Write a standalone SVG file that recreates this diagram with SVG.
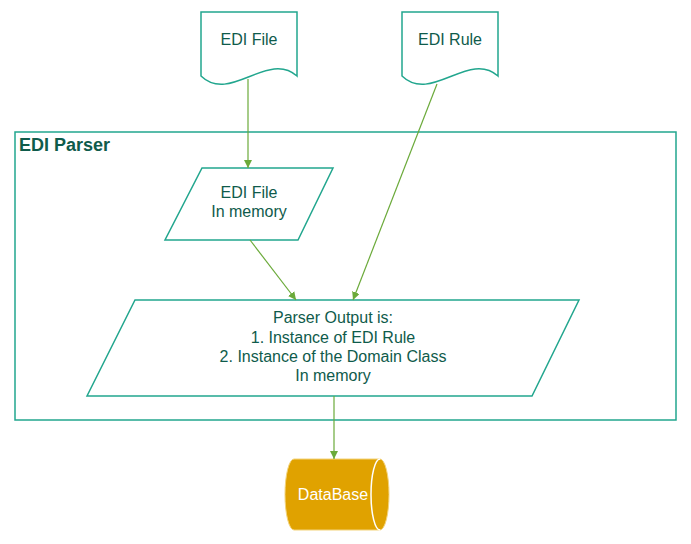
<svg xmlns="http://www.w3.org/2000/svg" width="691" height="544" viewBox="0 0 691 544">
<style>
.shape{fill:#fff;stroke:#22A68E;stroke-width:1.5}
.t{font-family:"Liberation Sans",Arial,sans-serif;font-size:16px;fill:#0F5B4B;text-anchor:middle}
.title{font-family:"Liberation Sans",Arial,sans-serif;font-size:18px;font-weight:bold;fill:#0F5B4B}
.conn{stroke:#6BAA3A;stroke-width:1.2;fill:none;marker-end:url(#arr)}
</style>
<defs>
<marker id="arr" viewBox="0 0 10 10" refX="10" refY="5" markerWidth="8" markerHeight="8" markerUnits="userSpaceOnUse" orient="auto">
<path d="M0,0 L10,5 L0,10 Z" fill="#6BAA3A"/>
</marker>
</defs>
<rect width="691" height="544" fill="#fff"/>
<g id="container">
<rect x="15" y="132" width="661" height="288" fill="none" stroke="#22A68E" stroke-width="1.5"/>
<text class="title" x="19" y="151">EDI Parser</text>
</g>
<g id="edi-file-doc">
<path class="shape" d="M201,12 H297 V76 C268,50 230,104 201,76 Z"/>
<text class="t" x="249" y="45">EDI File</text>
</g>
<g id="edi-rule-doc">
<path class="shape" d="M402,12 H498 V76 C469,50 431,104 402,76 Z"/>
<text class="t" x="450" y="45">EDI Rule</text>
</g>
<g id="edi-file-memory">
<path class="shape" d="M202,168 H333 L298,240 H165 Z"/>
<text class="t" x="249" y="198">EDI File</text>
<text class="t" x="249" y="217">In memory</text>
</g>
<g id="parser-output">
<path class="shape" d="M135,300 H579 L532,396 H87 Z"/>
<text class="t" x="333" y="323">Parser Output is:</text>
<text class="t" x="333" y="343">1. Instance of EDI Rule</text>
<text class="t" x="333" y="362">2. Instance of the Domain Class</text>
<text class="t" x="333" y="381">In memory</text>
</g>
<g id="database">
<path d="M294,459 H380 A9,35.5 0 0 1 380,530 H294 A9,35.5 0 0 1 294,459 Z" fill="#E0A200" stroke="#F3D37A" stroke-width="1"/>
<path d="M380,459 A9,35.5 0 0 0 380,530" fill="none" stroke="#fff" stroke-width="1.5"/>
<text class="t" x="333" y="500" style="fill:#fff">DataBase</text>
</g>
<g id="connectors">
<line class="conn" x1="248" y1="79" x2="248" y2="168"/>
<line class="conn" x1="437" y1="84" x2="353" y2="300"/>
<line class="conn" x1="250" y1="240" x2="296" y2="300"/>
<line class="conn" x1="334" y1="396" x2="334" y2="459"/>
</g>
</svg>
